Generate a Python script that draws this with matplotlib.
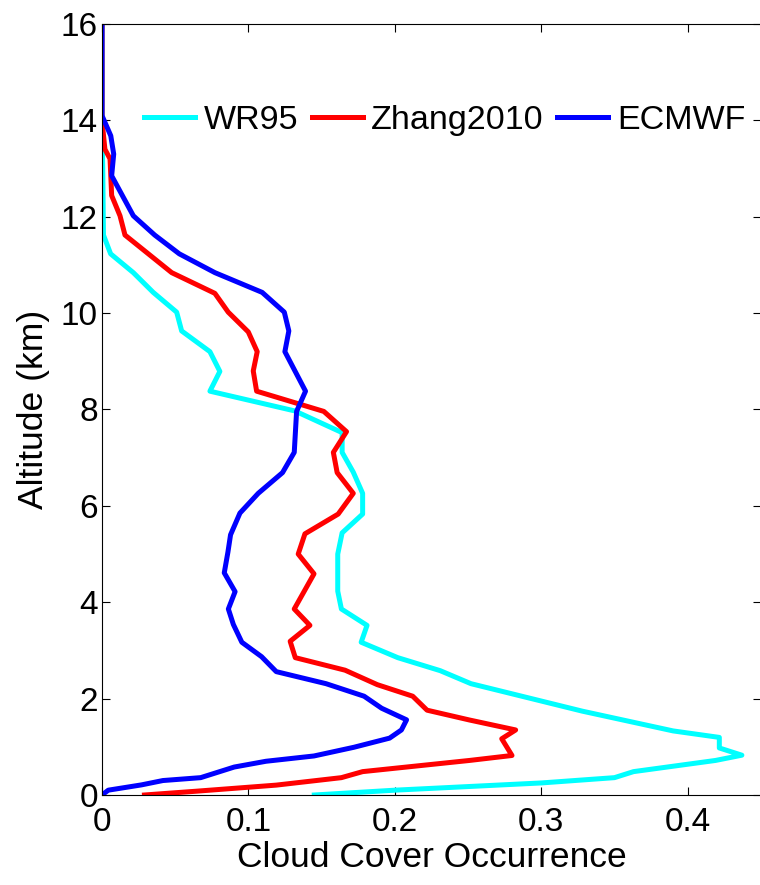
import matplotlib
matplotlib.use('Agg')
import matplotlib.pyplot as plt
import matplotlib.ticker as mticker

plt.rcParams['font.family'] = ['Liberation Sans', 'DejaVu Sans']

# cloud cover occurrence profiles (x) vs altitude in km (y)
wr95_x = [0.145, 0.200, 0.300, 0.350, 0.363, 0.419, 0.437, 0.4216, 0.4216, 0.390,
          0.328, 0.252, 0.231, 0.202, 0.177, 0.181, 0.1635, 0.161, 0.161, 0.164,
          0.178, 0.178, 0.1716, 0.164, 0.164, 0.1317, 0.0737, 0.0805, 0.0737, 0.0544,
          0.051, 0.035, 0.0214, 0.0059, 0.001, 0.0005, 0.0, 0.0]
wr95_y = [0.0, 0.10, 0.25, 0.36, 0.485, 0.717, 0.826, 0.976, 1.195, 1.33,
          1.74, 2.31, 2.58, 2.85, 3.17, 3.52, 3.86, 4.23, 5.0, 5.44,
          5.83, 6.26, 6.70, 7.11, 7.52, 7.97, 8.38, 8.79, 9.2, 9.63,
          10.02, 10.43, 10.84, 11.23, 11.62, 13.0, 13.8, 16.0]

zhang_x = [0.029, 0.065, 0.119, 0.1635, 0.178, 0.251, 0.280, 0.273, 0.2825, 0.251,
           0.222, 0.2122, 0.188, 0.166, 0.132, 0.1285, 0.142, 0.1313, 0.1448, 0.134,
           0.1386, 0.1613, 0.1716, 0.1606, 0.158, 0.167, 0.1515, 0.1056, 0.1033, 0.106,
           0.0999, 0.0862, 0.0771, 0.0476, 0.0157, 0.0123, 0.0066, 0.0055, 0.002, 0.0, 0.0]
zhang_y = [0.0, 0.08, 0.205, 0.36, 0.485, 0.717, 0.82, 1.167, 1.35, 1.556,
           1.76, 2.05, 2.29, 2.59, 2.85, 3.19, 3.52, 3.86, 4.59, 5.0,
           5.42, 5.83, 6.26, 6.69, 7.11, 7.54, 7.96, 8.38, 8.80, 9.2,
           9.61, 10.02, 10.41, 10.84, 11.62, 12.02, 12.44, 13.2, 13.4, 14.0, 16.0]

ecmwf_x = [0.0, 0.0043, 0.027, 0.0416, 0.0674, 0.0903, 0.112, 0.1448, 0.172, 0.1964,
           0.2045, 0.208, 0.191, 0.179, 0.153, 0.119, 0.109, 0.0955, 0.0897, 0.0863,
           0.0909, 0.0835, 0.086, 0.0878, 0.0942, 0.1067, 0.1233, 0.1313, 0.1329, 0.139,
           0.1249, 0.1276, 0.1245, 0.1094, 0.0771, 0.0528, 0.036, 0.0214, 0.0066, 0.008,
           0.006, 0.0, 0.0]
ecmwf_y = [0.0, 0.1, 0.21, 0.3, 0.36, 0.58, 0.70, 0.81, 0.99, 1.18,
           1.35, 1.56, 1.80, 2.05, 2.31, 2.56, 2.87, 3.17, 3.54, 3.86,
           4.22, 4.61, 5.04, 5.40, 5.85, 6.26, 6.69, 7.11, 7.96, 8.38,
           9.2, 9.63, 10.02, 10.43, 10.84, 11.23, 11.62, 12.02, 12.85, 13.3,
           13.68, 14.1, 16.0]

labels = ['WR95', 'Zhang2010', 'ECMWF']
colors = ['#00FFFF', '#FF0000', '#0000FF']

fig = plt.figure(figsize=(7.6, 8.85), dpi=100)
ax = fig.add_axes([0.1342, 0.1017, 0.867, 0.8712])

ax.plot(wr95_x, wr95_y, color=colors[0], lw=3.6, label=labels[0])
ax.plot(zhang_x, zhang_y, color=colors[1], lw=3.6, label=labels[1])
ax.plot(ecmwf_x, ecmwf_y, color=colors[2], lw=3.6, label=labels[2])

ax.set_xlim(0, 0.45)
ax.set_ylim(0, 16)
ax.set_xticks([0, 0.1, 0.2, 0.3, 0.4])
ax.set_yticks(range(0, 17, 2))
ax.xaxis.set_major_formatter(mticker.FuncFormatter(lambda v, p: '%g' % v))
ax.tick_params(direction='in', length=6, width=0.8, labelsize=24,
               top=True, right=True)
ax.tick_params(axis='x', pad=9)
ax.tick_params(axis='y', pad=3)
for s in ax.spines.values():
    s.set_linewidth(0.8)

ax.set_xlabel('Cloud Cover Occurrence', fontsize=25.5, labelpad=2)
ax.set_ylabel('Altitude (km)', fontsize=25.5, labelpad=8)

ax.legend(loc='center', bbox_to_anchor=(0.234, 14.0), bbox_transform=ax.transData,
          ncol=3, frameon=False, fontsize=24.5, handlelength=1.5,
          handletextpad=0.25, columnspacing=0.4, borderpad=0)

fig.savefig('out.png', dpi=100)
